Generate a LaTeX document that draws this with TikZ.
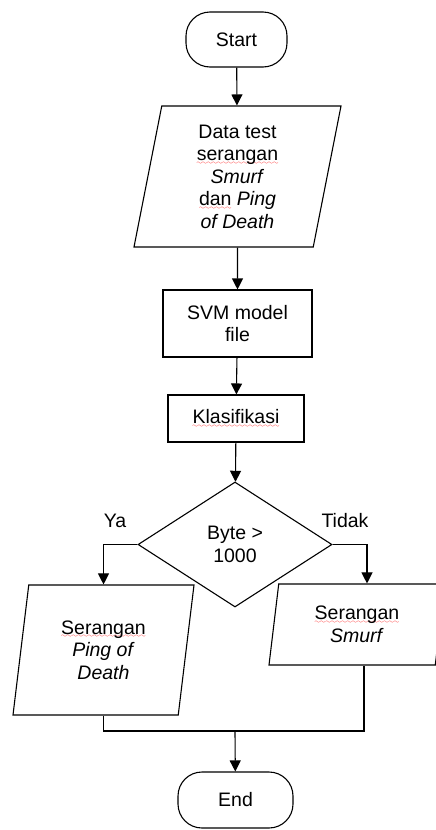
\documentclass[tikz,border=0pt]{standalone}
\usepackage{fontspec}
\setmainfont{Liberation Sans}
\usepackage{xcolor}
\usepackage{tikz}
\usetikzlibrary{positioning, shapes.geometric, arrows.meta}
\font\wavefnt=lasy6
\newcommand\redwave[1]{\setbox0\hbox{#1}\rlap{\textcolor{red}{\lower3.5pt\hbox to \wd0{\xleaders\hbox{\wavefnt\char58}\hfil}}}\box0{}}

\begin{document}
\begin{tikzpicture}[x=1pt,y=-1pt,line width=1.1pt,font=\fontsize{19.5}{22.5}\selectfont]
					\tikzstyle{terminal}=[rectangle,rounded corners=24pt,draw=black]
					\tikzstyle{process}=[rectangle,draw=black,align=center]
					\tikzstyle{io}=[trapezium,trapezium left angle=75,trapezium right angle=105,trapezium stretches body,draw=black,align=center,inner sep=0pt]
					\tikzstyle{decision}=[diamond,draw=black,align=center,inner sep=0pt]
					\useasboundingbox (0,0) rectangle (436,830);
					\node[terminal,minimum width=101pt,minimum height=55pt](start) at (236.5,39.5){Start};
					\node[io,minimum width=207pt,minimum height=141pt](data) at (237.5,176.5){Data test\\ \redwave{serangan}\\ \textit{Smurf}\\ \redwave{dan} \textit{Ping}\\ \textit{of Death}};
					\node[process,minimum width=149pt,minimum height=67pt](svm) at (237.5,323.5){SVM model\\ file};
					\node[process,minimum width=136pt,minimum height=47pt](klas) at (236,418.5){\redwave{Klasifikasi}};
					\node[decision,minimum width=194pt,minimum height=125pt](byte) at (235,544.5){Byte >\\ 1000};
					\node[io,minimum width=181pt,minimum height=130pt](pod) at (103.5,650){\redwave{Serangan}\\ \textit{Ping of}\\ \textit{Death}};
					\node[io,minimum width=176pt,minimum height=81pt](smurf) at (357,624.5){\redwave{Serangan}\\ \textit{Smurf}};
					\node[terminal,minimum width=115pt,minimum height=56pt](end) at (235.5,800){End};
					\node(ya) at (115,521){Ya};
					\node(tidak) at (345,521){Tidak};
					\coordinate(join) at (235,731);
					\path[-{Triangle[length=11pt,width=11pt]}]
						(start) edge (data)
						(data) edge (svm)
						(svm) edge (klas)
						(klas) edge (byte)
						(join) edge (end);
					\draw[-{Triangle[length=11pt,width=11pt]}] (byte.west) -| (pod.north);
					\draw[-{Triangle[length=11pt,width=11pt]}] (byte.east) -| ([xshift=10pt]smurf.north);
					\draw (pod.south) |- (join) -| ([xshift=7pt]smurf.south);
				\end{tikzpicture}
\end{document}
